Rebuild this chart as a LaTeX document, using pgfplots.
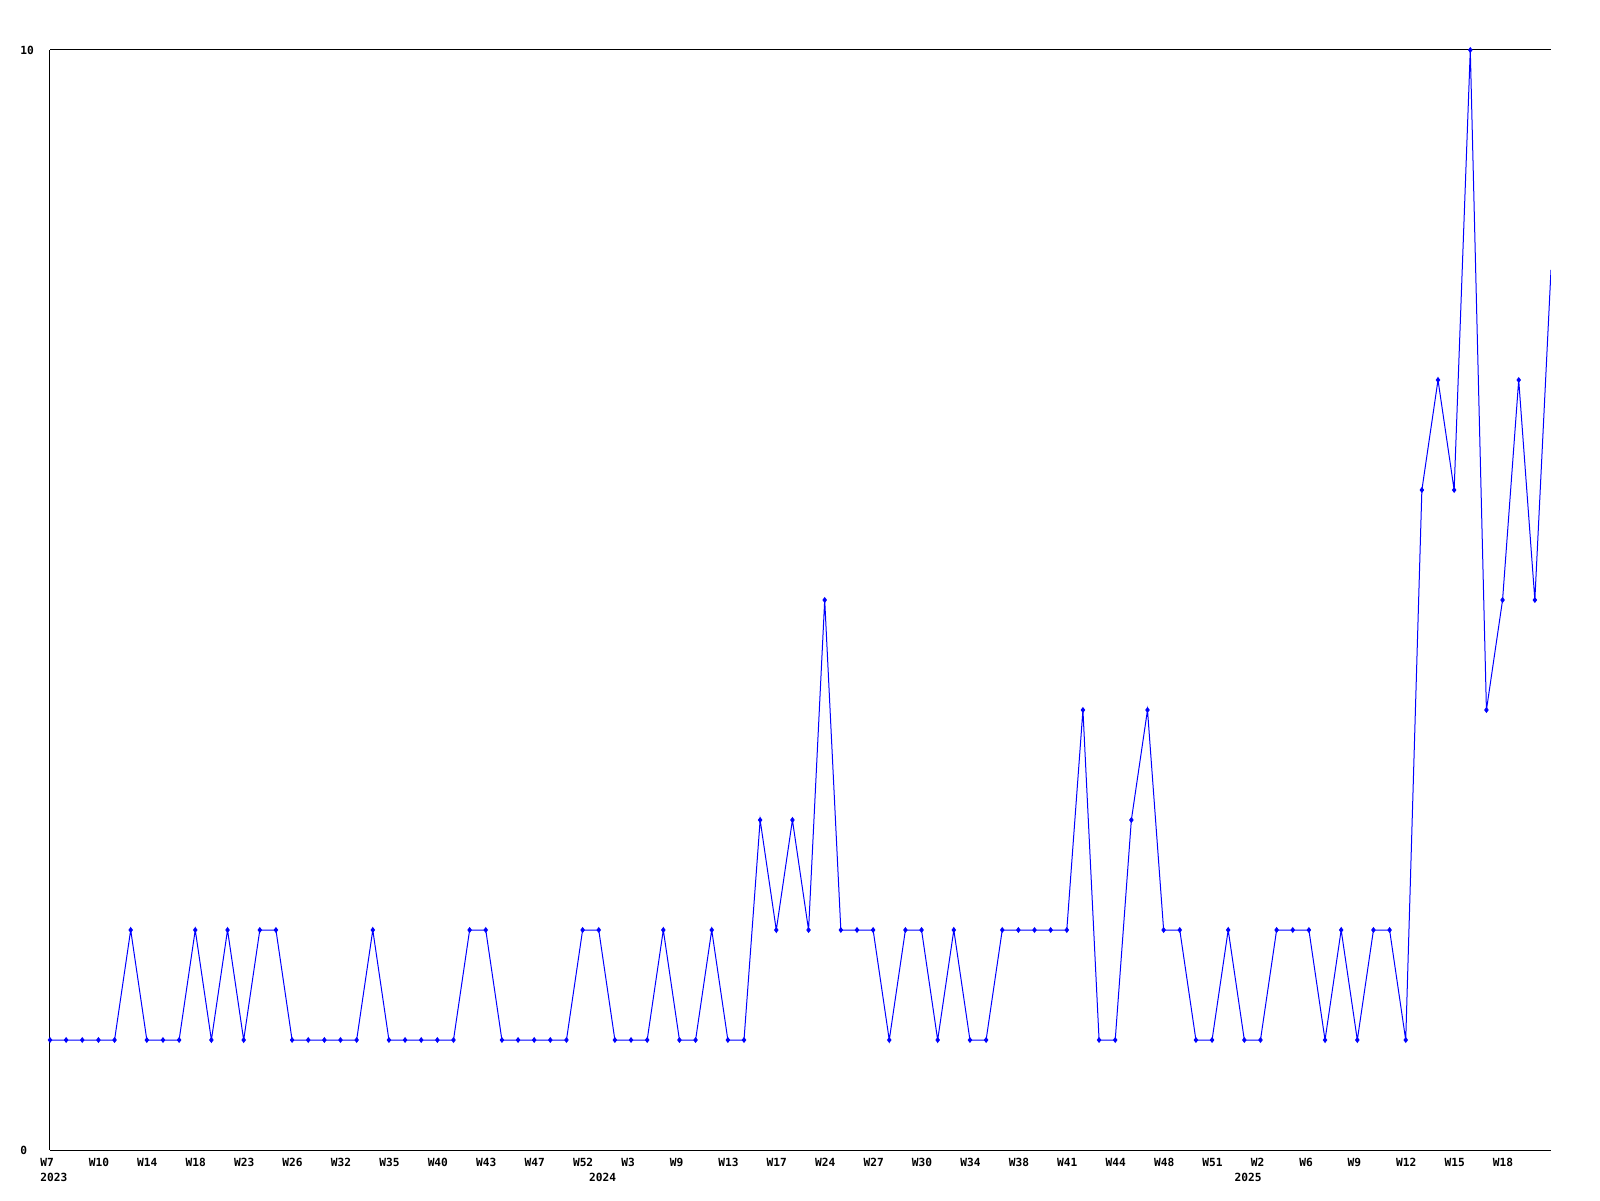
\documentclass[border=0pt]{standalone}
\usepackage{pgfplots}
\pgfplotsset{compat=1.18}
\usepackage{fontspec}
\setmainfont{DejaVu Sans Mono}
\definecolor{lineblue}{RGB}{0,0,255}
\begin{document}
\begin{tikzpicture}
\useasboundingbox (-25pt,-25pt) rectangle (775pt,575pt);
\begin{axis}[
  at={(0,0)}, anchor=south west,
  scale only axis,
  width=750.5pt, height=550pt,
  xmin=0, xmax=93, ymin=0, ymax=10,
  axis x line=box, axis y line=left,
  axis line style={-, black, line width=0.5pt},
  ytick={0,10},
  xtick={0,3,...,90},
  xticklabels={W7,W10,W14,W18,W23,W26,W32,W35,W40,W43,W47,W52,W3,W9,W13,W17,W24,W27,W30,W34,W38,W41,W44,W48,W51,W2,W6,W9,W12,W15,W18},
  extra x ticks={0,34,74},
  extra x tick labels={2023,2024,2025},
  extra x tick style={grid=none, xticklabel style={yshift=-7.35pt}},
  major tick length=0pt,
  tick style={draw=none},
  /pgf/number format/assume math mode=true,
  ticklabel style={font=\fontsize{5.6}{6}\selectfont\bfseries, inner sep=0pt},
  xticklabel style={anchor=north west, xshift=-5pt, yshift=-4pt},
  yticklabel style={anchor=west, xshift=-15pt},
  clip=true,
]
\addplot[color=lineblue, line width=0.5pt, mark=diamond*, mark size=1.1pt, mark indices={1,...,93}, mark options={solid, fill=lineblue}] coordinates {
(0,1)(1,1)(2,1)(3,1)(4,1)(5,2)(6,1)(7,1)(8,1)(9,2)
(10,1)(11,2)(12,1)(13,2)(14,2)(15,1)(16,1)(17,1)(18,1)(19,1)
(20,2)(21,1)(22,1)(23,1)(24,1)(25,1)(26,2)(27,2)(28,1)(29,1)
(30,1)(31,1)(32,1)(33,2)(34,2)(35,1)(36,1)(37,1)(38,2)(39,1)
(40,1)(41,2)(42,1)(43,1)(44,3)(45,2)(46,3)(47,2)(48,5)(49,2)
(50,2)(51,2)(52,1)(53,2)(54,2)(55,1)(56,2)(57,1)(58,1)(59,2)
(60,2)(61,2)(62,2)(63,2)(64,4)(65,1)(66,1)(67,3)(68,4)(69,2)
(70,2)(71,1)(72,1)(73,2)(74,1)(75,1)(76,2)(77,2)(78,2)(79,1)
(80,2)(81,1)(82,2)(83,2)(84,1)(85,6)(86,7)(87,6)(88,10)(89,4)
(90,5)(91,7)(92,5)(93,8)
};
\end{axis}
\end{tikzpicture}
\end{document}
